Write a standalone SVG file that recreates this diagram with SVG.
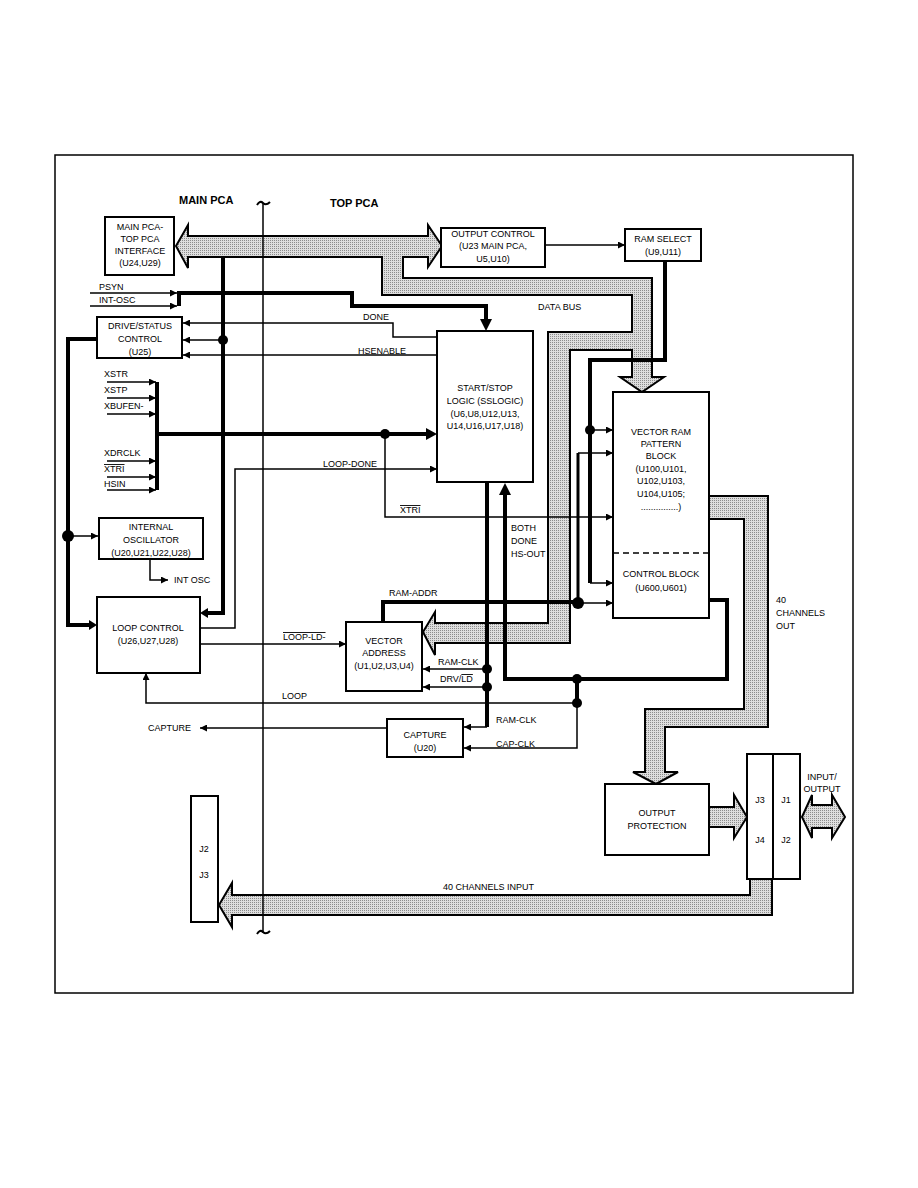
<svg xmlns="http://www.w3.org/2000/svg" width="918" height="1188" viewBox="0 0 918 1188">
<defs>
<pattern id="stip" width="2" height="2" patternUnits="userSpaceOnUse">
<rect width="2" height="2" fill="#dedede"/>
<rect width="1" height="1" fill="#8c8c8c"/>
</pattern>
<marker id="ah" viewBox="0 0 10 10" refX="10" refY="5" markerWidth="9" markerHeight="7" markerUnits="userSpaceOnUse" orient="auto">
<path d="M0,0 L10,5 L0,10 z" fill="#000"/>
</marker>
</defs>
<style>
.box{fill:#fff;stroke:#000;stroke-width:2}
.t{font-family:"Liberation Sans",Arial,sans-serif;font-size:9px;fill:#000}
.c{text-anchor:middle}
.b{font-weight:bold;font-size:11px}
.thin{fill:none;stroke:#000;stroke-width:1.5}
.thick{fill:none;stroke:#000;stroke-width:4}
.med{fill:none;stroke:#000;stroke-width:3}
.bus{fill:url(#stip);stroke:#000;stroke-width:2;stroke-linejoin:miter}
.ol{text-decoration:overline}
</style>
<rect width="918" height="1188" fill="#fff"/>
<rect x="55" y="155" width="798" height="838" fill="none" stroke="#000" stroke-width="1.5"/>

<text class="t b" x="179" y="204">MAIN PCA</text>
<text class="t b" x="330" y="207">TOP PCA</text>

<g id="buses">
<polygon class="bus" points="176,246 188,225 188,236 428,236 428,225 442,246 428,267 428,257 403,257 403,278 652,278 652,377 664,377 642,392 620,377 632,377 632,350 570,350 570,643 435,643 435,655 423,632 435,612 435,623 548,623 548,332 632,332 632,295 382,295 382,257 188,257 188,268"/>
<polygon class="bus" points="709,496 768,496 768,727 665,727 665,772 678,772 656,784 633,772 645,772 645,709 744,709 744,519 709,519"/>
<polygon class="bus" points="709,807 734,807 734,795 747,817 734,838 734,827 709,827"/>
<polygon class="bus" points="802,817 812,795 812,805 832,805 832,795 845,817 832,838 832,828 812,828 812,838"/>
<polygon class="bus" points="772,879 772,915 232,915 232,927 219,905 232,883 232,895 750,895 750,879"/>
</g>

<g id="connectors">
<polyline class="thick" points="223,257 223,613 208,613"/>
<path d="M208,608 L200,613 L208,618 z"/>
<polyline class="thick" points="97,339 68,339 68,625 90,625"/>
<path d="M89,620 L97,625 L89,630 z"/>
<polyline class="thick" points="179,306 179,293 352,293 352,306 486,306 486,320"/>
<path d="M480,319 L486,331 L492,319 z"/>
<polyline class="thick" points="157,382 157,490"/>
<polyline class="thick" points="157,434 427,434"/>
<path d="M426,428 L437,434 L426,440 z"/>
<polyline class="thick" points="487,482 487,727"/>
<polyline class="thick" points="505,494 505,679 727,679 727,600 709,600"/>
<path d="M499,495 L505,483 L511,495 z"/>
<polyline class="thick" points="383,622 383,602 578,602"/>
<polyline class="med" points="578,603 578,453"/>
<polyline class="thick" points="665,261 665,360 590,360 590,583"/>
<polyline class="thick" points="577,679 577,703"/>

<polyline class="thin" points="437,337 393,337 393,323 183,323" marker-end="url(#ah)"/>
<polyline class="thin" points="437,355 183,355" marker-end="url(#ah)"/>
<polyline class="thin" points="223,340 183,340" marker-end="url(#ah)"/>
<polyline class="thin" points="90,293 177,293" marker-end="url(#ah)"/>
<polyline class="thin" points="90,306 177,306" marker-end="url(#ah)"/>
<polyline class="thin" points="107,382 156,382" marker-end="url(#ah)"/>
<polyline class="thin" points="107,398 156,398" marker-end="url(#ah)"/>
<polyline class="thin" points="107,414 156,414" marker-end="url(#ah)"/>
<polyline class="thin" points="107,461 156,461" marker-end="url(#ah)"/>
<polyline class="thin" points="107,477 156,477" marker-end="url(#ah)"/>
<polyline class="thin" points="107,490 156,490" marker-end="url(#ah)"/>
<polyline class="thin" points="200,628 235,628 235,469 437,469" marker-end="url(#ah)"/>
<polyline class="thin" points="385,434 385,517 613,517" marker-end="url(#ah)"/>
<polyline class="thin" points="200,644 346,644" marker-end="url(#ah)"/>
<polyline class="thin" points="577,703 146,703 146,673" marker-end="url(#ah)"/>
<polyline class="thin" points="387,728 200,728" marker-end="url(#ah)"/>
<polyline class="thin" points="487,669 423,669" marker-end="url(#ah)"/>
<polyline class="thin" points="487,687 423,687" marker-end="url(#ah)"/>
<polyline class="thin" points="487,727 464,727" marker-end="url(#ah)"/>
<polyline class="thin" points="577,703 577,748 464,748" marker-end="url(#ah)"/>
<polyline class="thin" points="68,536 98,536" marker-end="url(#ah)"/>
<polyline class="thin" points="150,559 150,580 168,580" marker-end="url(#ah)"/>
<polyline class="thin" points="545,245 625,245" marker-end="url(#ah)"/>
<polyline class="thin" points="590,430 613,430" marker-end="url(#ah)"/>
<polyline class="thin" points="578,453 613,453" marker-end="url(#ah)"/>
<polyline class="thin" points="590,583 613,583" marker-end="url(#ah)"/>
<polyline class="thin" points="578,603 613,603" marker-end="url(#ah)"/>

<circle cx="223" cy="340" r="5"/>
<circle cx="68" cy="536" r="6"/>
<circle cx="385" cy="434" r="5"/>
<circle cx="590" cy="430" r="5"/>
<circle cx="578" cy="603" r="6"/>
<circle cx="487" cy="669" r="5"/>
<circle cx="487" cy="687" r="5"/>
<circle cx="577" cy="679" r="5"/>
<circle cx="577" cy="703" r="5"/>

<line x1="263" y1="203" x2="263" y2="933" stroke="#000" stroke-width="1.5"/>
<path d="M257,205 Q260,200 263,203 Q266,206 270,202" fill="none" stroke="#000" stroke-width="2"/>
<path d="M257,934 Q260,929 263,932 Q266,935 270,931" fill="none" stroke="#000" stroke-width="2"/>
</g>

<g id="n-interface">
<rect class="box" x="105" y="217" width="69" height="58"/>
<text class="t c" x="140" y="230">MAIN PCA-</text>
<text class="t c" x="140" y="242">TOP PCA</text>
<text class="t c" x="140" y="254">INTERFACE</text>
<text class="t c" x="140" y="266">(U24,U29)</text>
</g>
<g id="n-outctl">
<rect class="box" x="441" y="228" width="104" height="39"/>
<text class="t c" x="493" y="237">OUTPUT CONTROL</text>
<text class="t c" x="493" y="249">(U23 MAIN PCA,</text>
<text class="t c" x="493" y="262">U5,U10)</text>
</g>
<g id="n-ramsel">
<rect class="box" x="625" y="229" width="76" height="32"/>
<text class="t c" x="663" y="242">RAM SELECT</text>
<text class="t c" x="663" y="255">(U9,U11)</text>
</g>
<g id="n-drive">
<rect class="box" x="97" y="317" width="85" height="41"/>
<text class="t c" x="140" y="329">DRIVE/STATUS</text>
<text class="t c" x="140" y="342">CONTROL</text>
<text class="t c" x="140" y="355">(U25)</text>
</g>
<g id="n-sslogic">
<rect class="box" x="437" y="331" width="96" height="151"/>
<text class="t c" x="485" y="391">START/STOP</text>
<text class="t c" x="485" y="404">LOGIC (SSLOGIC)</text>
<text class="t c" x="485" y="417">(U6,U8,U12,U13,</text>
<text class="t c" x="485" y="429">U14,U16,U17,U18)</text>
</g>
<g id="n-intosc">
<rect class="box" x="99" y="518" width="104" height="41"/>
<text class="t c" x="151" y="530">INTERNAL</text>
<text class="t c" x="151" y="543">OSCILLATOR</text>
<text class="t c" x="151" y="556">(U20,U21,U22,U28)</text>
</g>
<g id="n-loop">
<rect class="box" x="97" y="597" width="103" height="76"/>
<text class="t c" x="148" y="631">LOOP CONTROL</text>
<text class="t c" x="148" y="644">(U26,U27,U28)</text>
</g>
<g id="n-vaddr">
<rect class="box" x="346" y="622" width="76" height="69"/>
<text class="t c" x="384" y="644">VECTOR</text>
<text class="t c" x="384" y="656">ADDRESS</text>
<text class="t c" x="384" y="669">(U1,U2,U3,U4)</text>
</g>
<g id="n-capture">
<rect class="box" x="387" y="719" width="76" height="38"/>
<text class="t c" x="425" y="738">CAPTURE</text>
<text class="t c" x="425" y="751">(U20)</text>
</g>
<g id="n-vram">
<rect class="box" x="613" y="392" width="96" height="226"/>
<line x1="613" y1="553" x2="709" y2="553" stroke="#000" stroke-width="1.5" stroke-dasharray="6,4"/>
<text class="t c" x="661" y="435">VECTOR RAM</text>
<text class="t c" x="661" y="447">PATTERN</text>
<text class="t c" x="661" y="459">BLOCK</text>
<text class="t c" x="661" y="472">(U100,U101,</text>
<text class="t c" x="661" y="484">U102,U103,</text>
<text class="t c" x="661" y="497">U104,U105;</text>
<text class="t c" x="661" y="510">...............)</text>
<text class="t c" x="661" y="577">CONTROL BLOCK</text>
<text class="t c" x="661" y="591">(U600,U601)</text>
</g>
<g id="n-outprot">
<rect class="box" x="605" y="784" width="104" height="71"/>
<text class="t c" x="657" y="816">OUTPUT</text>
<text class="t c" x="657" y="829">PROTECTION</text>
</g>
<g id="n-conn">
<rect class="box" x="747" y="754" width="53" height="125"/>
<line x1="773" y1="754" x2="773" y2="879" stroke="#000" stroke-width="2"/>
<text class="t c" x="760" y="803">J3</text>
<text class="t c" x="786" y="803">J1</text>
<text class="t c" x="760" y="843">J4</text>
<text class="t c" x="786" y="843">J2</text>
</g>
<g id="n-conn2">
<rect class="box" x="191" y="796" width="27" height="126"/>
<text class="t c" x="204" y="852">J2</text>
<text class="t c" x="204" y="878">J3</text>
</g>

<g id="labels">
<text class="t" x="99" y="290">PSYN</text>
<text class="t" x="99" y="303">INT-OSC</text>
<text class="t" x="104" y="377">XSTR</text>
<text class="t" x="104" y="393">XSTP</text>
<text class="t" x="104" y="409">XBUFEN-</text>
<text class="t" x="104" y="456">XDRCLK</text>
<text class="t ol" x="104" y="472">XTRI</text>
<text class="t" x="104" y="487">HSIN</text>
<text class="t" x="363" y="320">DONE</text>
<text class="t" x="358" y="354">HSENABLE</text>
<text class="t" x="538" y="310">DATA BUS</text>
<text class="t" x="323" y="467">LOOP-DONE</text>
<text class="t ol" x="400" y="513">XTRI</text>
<text class="t" x="511" y="531">BOTH</text>
<text class="t" x="511" y="544">DONE</text>
<text class="t" x="511" y="557">HS-OUT</text>
<text class="t" x="389" y="596">RAM-ADDR</text>
<text class="t ol" x="283" y="640">LOOP-LD-</text>
<text class="t" x="282" y="699">LOOP</text>
<text class="t" x="148" y="731">CAPTURE</text>
<text class="t" x="174" y="583">INT OSC</text>
<text class="t" x="438" y="665">RAM-CLK</text>
<text class="t" x="440" y="682">DRV/<tspan class="ol">LD</tspan></text>
<text class="t" x="496" y="723">RAM-CLK</text>
<text class="t" x="496" y="747">CAP-CLK</text>
<text class="t" x="776" y="603">40</text>
<text class="t" x="776" y="616">CHANNELS</text>
<text class="t" x="776" y="629">OUT</text>
<text class="t c" x="822" y="780">INPUT/</text>
<text class="t c" x="822" y="792">OUTPUT</text>
<text class="t" x="443" y="890">40 CHANNELS INPUT</text>
</g>
</svg>
